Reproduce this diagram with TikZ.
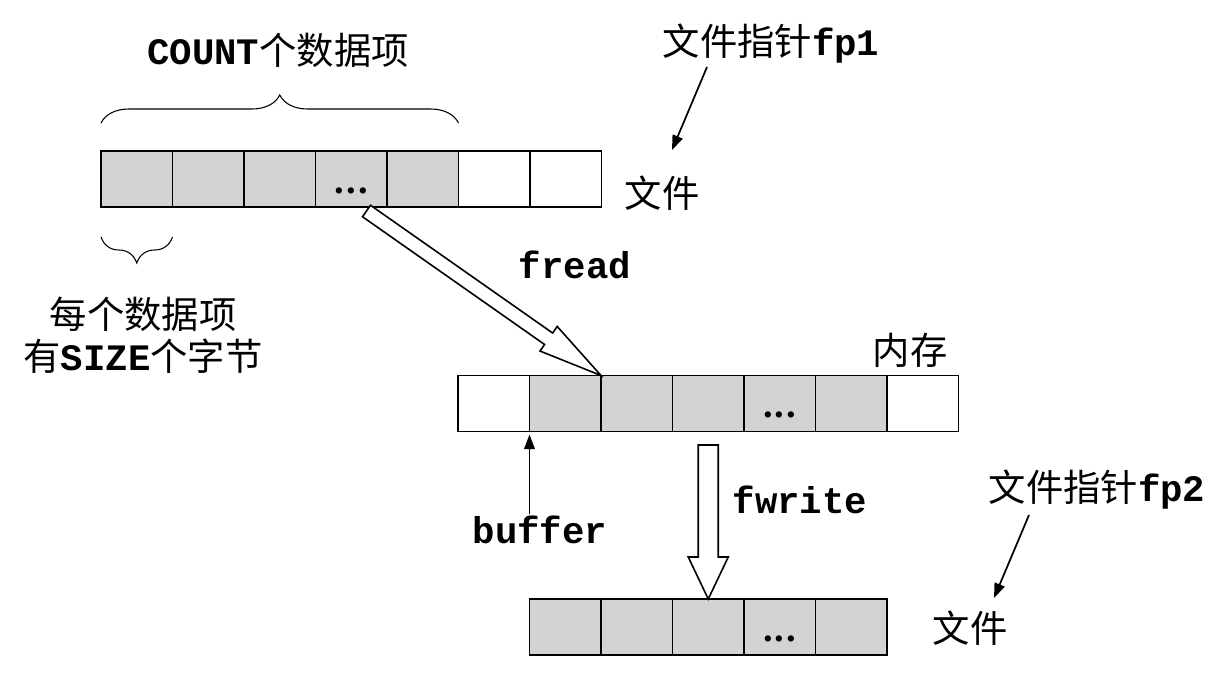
\documentclass[tikz,border=0pt]{standalone}
\usepackage{fontspec}
\setmainfont{Liberation Serif}
\setmonofont{Liberation Mono}
\newfontfamily\cjk{Noto Sans CJK SC}
\usetikzlibrary{arrows.meta,calc,decorations.pathreplacing}
\definecolor{cellgray}{RGB}{211,211,211}
\newcommand\kw[1]{{\ttfamily\bfseries #1}}
\newcommand\celldots{.\kern1.6pt.\kern1.6pt.}
\tikzset{
  cell/.style={draw, line width=1.1pt, minimum width=53.625pt, minimum height=42pt, inner sep=0pt, outer sep=0pt},
  full/.style={cell, fill=cellgray},
  blank/.style={cell, fill=white},
  lbl/.style={font=\cjk\fontsize{28}{31.5}\selectfont, inner sep=0pt, align=center},
  dots/.style={font=\bfseries\fontsize{29}{31.5}\selectfont, inner sep=0pt},
  ptr/.style={-{Triangle[length=11pt,width=8pt]}, line width=1.3pt},
  block/.style={draw, line width=1.2pt, fill=white, line join=miter},
  bracestyle/.style={draw, line width=0.8pt, decorate}
}
\begin{document}
\begin{tikzpicture}[x=0.75pt,y=-0.75pt]
\useasboundingbox (0,0) rectangle (1231,687);
% top file row
\foreach \i in {1,...,5} \node[full] (f\i) at ({101+71.5*(\i-0.5)},179) {};
\foreach \i in {6,7} \node[blank] (f\i) at ({101+71.5*(\i-0.5)},179) {};
\node[dots] (fdots) at (f4.center |- 0,191) {\celldots};
% memory row
\foreach \i in {1,7} \node[blank] (m\i) at ({458+71.5*(\i-0.5)},403.5) {};
\foreach \i in {2,...,6} \node[full] (m\i) at ({458+71.5*(\i-0.5)},403.5) {};
\node[dots] (mdots) at (m5.center |- 0,415) {\celldots};
% bottom file row
\foreach \i in {1,...,5} \node[full] (b\i) at ({529.5+71.5*(\i-0.5)},627) {};
\node[dots] (bdots) at (b4.center |- 0,639) {\celldots};

% braces
\draw[bracestyle, decoration={brace, amplitude=21pt}] (f1.north west |- 0,123) -- (f5.north east |- 0,123);
\draw[bracestyle, decoration={brace, amplitude=19.5pt}] (f1.north east |- 0,237) -- (f1.north west |- 0,237);

% labels
\node[lbl] (count) at (278,50) {\kw{COUNT}个数据项};
\node[lbl] (fp1) at (771,44) {文件指针\kw{fp1}};
\node[lbl] (file1) at (662,193) {文件};
\node[lbl] (size) at (143,335) {每个数据项\\有\kw{SIZE}个字节};
\node[lbl] (fread) at (575,265) {\kw{fread}};
\node[lbl] (mem) at (910,350) {内存};
\node[lbl] (buffer) at (540,530) {\kw{buffer}};
\node[lbl] (fwrite) at (800,500) {\kw{fwrite}};
\node[lbl] (fp2) at (1097,490) {文件指针\kw{fp2}};
\node[lbl] (file2) at (970,628) {文件};

% pointer arrows
\coordinate (p1s) at (707,67);
\coordinate (p1t) at (672,150);
\draw[ptr] (p1s) -- (p1t);
\coordinate (p2s) at (1029,515);
\coordinate (p2t) at (994,598);
\draw[ptr] (p2s) -- (p2t);
\coordinate (bufs) at (m2.south west |- 0,514);
\draw[ptr] (bufs) -- ($(m2.south west)+(0,3)$);

% fread block arrow
\coordinate (rs) at (366.5,211);
\coordinate (rt) at (m3.north west);
\coordinate (rb) at ($(rt)!48pt!(rs)$);
\draw[block] ($(rs)!5.25pt!90:(rt)$) -- ($(rb)!5.25pt!-90:(rs)$) -- ($(rb)!11.25pt!-90:(rs)$) -- (rt)
  -- ($(rb)!11.25pt!90:(rs)$) -- ($(rb)!5.25pt!90:(rs)$) -- ($(rs)!5.25pt!-90:(rt)$) -- cycle;
% fwrite block arrow
\coordinate (wt) at (b3.north);
\coordinate (ws) at (b3.north |- 0,445);
\coordinate (wb) at ($(wt)!31.5pt!(ws)$);
\draw[block] ($(ws)!7.5pt!90:(wt)$) -- ($(wb)!7.5pt!-90:(ws)$) -- ($(wb)!15pt!-90:(ws)$) -- (wt)
  -- ($(wb)!15pt!90:(ws)$) -- ($(wb)!7.5pt!90:(ws)$) -- ($(ws)!7.5pt!-90:(wt)$) -- cycle;
\end{tikzpicture}
\end{document}
